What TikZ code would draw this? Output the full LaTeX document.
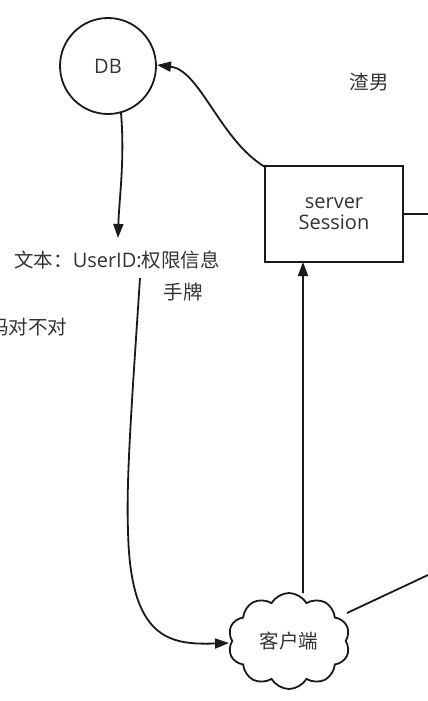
\documentclass[tikz,border=0pt]{standalone}
\usepackage{fontspec}
\setmainfont{Noto Sans CJK SC}
\newfontfamily\latinfont{Open Sans}
\usetikzlibrary{arrows.meta,shapes.symbols}
\definecolor{ink}{HTML}{1A1A1A}
\definecolor{txt}{HTML}{333333}
\begin{document}
\begin{tikzpicture}[x=1pt,y=-1pt,
  line width=1.8pt, draw=ink,
  lbl/.style={text=txt,font=\fontsize{19.5}{22}\selectfont,inner sep=0pt},
  lat/.style={text=txt,font=\latinfont\fontsize{20}{23}\selectfont,inner sep=0pt},
  arr/.style={-{Triangle[length=14pt,width=10pt]},line width=1.8pt,draw=ink},
  plain/.style={line width=1.8pt,draw=ink}]
\useasboundingbox (0,0) rectangle (428,701);
\fill[white] (0,0) rectangle (428,701);
% nodes
\node[draw=ink,line width=1.8pt,circle,minimum size=96pt,lat] (db) at (108,66) {DB};
\node[draw=ink,line width=1.8pt,rectangle,minimum width=138pt,minimum height=96pt,lat,align=center] (srv) at (334,214) {server\\[-2pt]Session};
\node[draw=ink,line width=1.8pt,cloud,cloud puffs=10,cloud puff arc=120,aspect=1.3,minimum width=122pt,minimum height=96pt,lbl,inner sep=0pt] (cli) at (289,641) {客户端};
\node[lbl] (t1) at (117,260) {文本：{\latinfont\fontsize{20}{23}\selectfont UserID:}权限信息};
\node[lbl] (t2) at (183,292) {手牌};
\node[lbl,anchor=east] (t3) at (68,327) {码对不对};
\node[lbl] (t4) at (369,82) {渣男};
% free ends
\coordinate (c1) at (140,278);
\coordinate (r1) at (428,214);
\coordinate (r2) at (428,575);
\coordinate (srvbl) at (265,167);
\coordinate (dbe) at (157,65);
\coordinate (dbs) at (121,113);
\coordinate (t1n) at (118,238);
\coordinate (cliw) at (229,643);
\coordinate (clin) at (303,593);
\coordinate (srvs) at (303,262);
\coordinate (clie) at (347,613);
% connectors
\draw[arr] (dbs) .. controls (125,160) and (119,200) .. (t1n);
\draw[arr] (srvbl) .. controls (220,140) and (200,70) .. (dbe);
\draw[arr] (c1) .. controls (132,400) and (126,480) .. (128,530) .. controls (130,640) and (170,645) .. (cliw);
\draw[arr] (clin) -- (srvs);
\draw[plain] (srv.east) -- (r1);
\draw[plain] (clie) -- (r2);
\end{tikzpicture}
\end{document}
